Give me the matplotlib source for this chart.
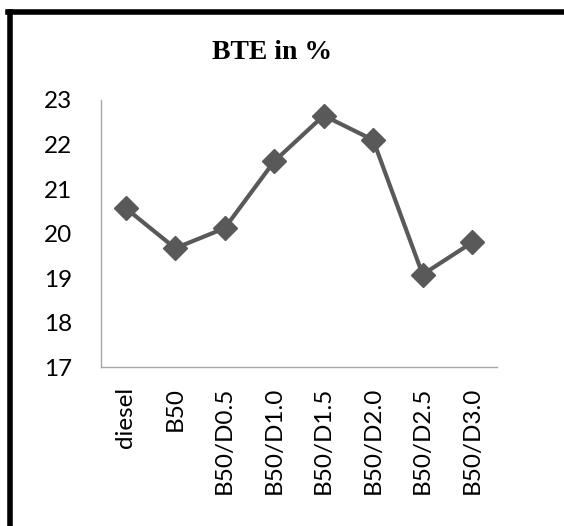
import matplotlib.pyplot as plt
from matplotlib.lines import Line2D

fuels = ["diesel", "B50", "B50/D0.5", "B50/D1.0", "B50/D1.5",
         "B50/D2.0", "B50/D2.5", "B50/D3.0"]
bte = [20.57, 19.67, 20.12, 21.62, 22.65, 22.1, 19.08, 19.8]
yticks = [17, 18, 19, 20, 21, 22, 23]

fig = plt.figure(figsize=(5.64, 5.26), dpi=100)
ax = fig.add_axes([0.179, 0.302, 0.702, 0.508])

ax.plot(range(len(fuels)), bte, color="#595959", lw=3,
        marker="D", markersize=12, markerfacecolor="#595959",
        markeredgecolor="#595959")

ax.set_xlim(-0.5, len(fuels) - 0.5)
ax.set_ylim(17, 23)
ax.set_yticks(yticks)
ax.set_xticks(range(len(fuels)))
ax.set_xticklabels(fuels, rotation=90)
ax.tick_params(length=0, labelsize=17.5)
ax.tick_params(axis="y", pad=21)
ax.tick_params(axis="x", pad=14)
for lbl in ax.get_xticklabels() + ax.get_yticklabels():
    lbl.set_fontfamily("Lato")

for s in ["top", "right"]:
    ax.spines[s].set_visible(False)
for s in ["left", "bottom"]:
    ax.spines[s].set_color("#a6a6a6")
    ax.spines[s].set_linewidth(1)

fig.text(0.483, 0.901, "BTE in %", ha="center", va="center",
         fontsize=20, fontweight="bold", family="Liberation Serif")

# frame drawn around the chart
fig.add_artist(Line2D([0.0186, 0.0186], [0.0, 0.9765], color="black",
                      lw=4, transform=fig.transFigure))
fig.add_artist(Line2D([0.0142, 1.0], [0.9765, 0.9765], color="black",
                      lw=4, transform=fig.transFigure))

fig.savefig("out.png", dpi=100)
